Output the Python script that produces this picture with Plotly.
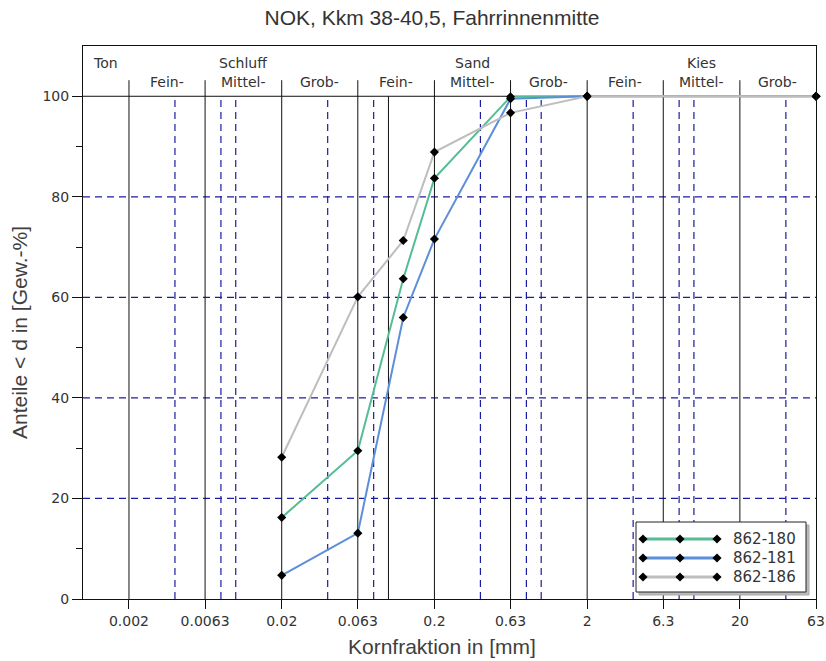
import math
import plotly.graph_objects as go

# ---------------- data ----------------
sizes_mm = [0.02, 0.063, 0.125, 0.2, 0.63, 2, 63]
s180 = [16.2, 29.5, 63.7, 83.7, 99.9, 100, 100]
s181 = [4.7, 13.1, 56.0, 71.6, 99.5, 100, 100]
s186 = [28.2, 60.1, 71.3, 88.9, 96.7, 100, 100]
series_names = ["862-180", "862-181", "862-186"]
series_colors = ["#55BC93", "#5C8FD8", "#BEBEBE"]

tick_vals = [0.002, 0.0063, 0.02, 0.063, 0.2, 0.63, 2, 6.3, 20, 63]
tick_text = ["0.002", "0.0063", "0.02", "0.063", "0.2", "0.63", "2", "6.3", "20", "63"]
solid_lines = [0.002, 0.0063, 0.02, 0.063, 0.1, 0.2, 0.63, 2, 6.3, 20]
dashed_lines = [0.004, 0.008, 0.01, 0.04, 0.08, 0.4, 0.8, 1, 4, 8, 10, 40]
class_bounds = [0.002, 0.0063, 0.02, 0.063, 0.2, 0.63, 2, 6.3, 20, 63]
class_sub = ["Fein-", "Mittel-", "Grob-", "Fein-", "Mittel-", "Grob-", "Fein-", "Mittel-", "Grob-"]
group_names = ["Schluff", "Sand", "Kies"]
y_grid = [20, 40, 60, 80]
x_min, x_max = 0.001, 63
y_min, y_max = 0, 110

# ---------------- layout geometry (pixels) ----------------
W, H = 826, 661
L, R, T, B = 83, 10, 46, 62
PW, PH = W - L - R, H - T - B

def px2paper_x(px):
    return (px - L) / PW

def px2paper_y(py):
    return (H - B - py) / PH

fig = go.Figure()

for name, col, ys in zip(series_names, series_colors, [s180, s181, s186]):
    fig.add_trace(go.Scatter(
        x=sizes_mm, y=ys, mode="lines+markers", name=name,
        line=dict(color=col, width=2),
        marker=dict(symbol="diamond", size=7, color="black"),
        showlegend=False, cliponaxis=False,
    ))

GRID_BLUE = "#1C1CA0"
shapes = []
# dashed blue grid
for v in dashed_lines:
    shapes.append(dict(type="line", xref="x", yref="y", x0=v, x1=v, y0=0, y1=100,
                       line=dict(color=GRID_BLUE, width=1.2, dash="7px,5px"), layer="below"))
for v in y_grid:
    shapes.append(dict(type="line", xref="x", yref="y", x0=x_min, x1=x_max, y0=v, y1=v,
                       line=dict(color=GRID_BLUE, width=1.2, dash="7px,5px"), layer="below"))
# solid class boundaries
for v in solid_lines:
    shapes.append(dict(type="line", xref="x", yref="y", x0=v, x1=v, y0=0, y1=100,
                       line=dict(color="#111111", width=1), layer="below"))
# short ticks in the class strip
for v in class_bounds[:-1]:
    shapes.append(dict(type="line", xref="x", yref="y", x0=v, x1=v, y0=100, y1=103.2,
                       line=dict(color="#111111", width=1), layer="below"))
shapes.append(dict(type="line", xref="x", yref="y", x0=x_min, x1=x_max, y0=100, y1=100,
                   line=dict(color="#111111", width=1), layer="below"))

# ---- custom legend, drawn on a pixel-unit overlay axis (above the grid) ----
lx0, lx1, ly0, ly1 = 636, 806, 522, 592
# shadow
fig.add_trace(go.Scatter(
    x=[lx0 + 3, lx1 + 3, lx1 + 3, lx0 + 3, lx0 + 3],
    y=[ly0 + 3, ly0 + 3, ly1 + 3, ly1 + 3, ly0 + 3],
    xaxis="x2", yaxis="y2", mode="lines", fill="toself", fillcolor="#BBBBBB",
    line=dict(color="#AAAAAA", width=1), showlegend=False, hoverinfo="skip"))
# box
fig.add_trace(go.Scatter(
    x=[lx0, lx1, lx1, lx0, lx0], y=[ly0, ly0, ly1, ly1, ly0],
    xaxis="x2", yaxis="y2", mode="lines", fill="toself", fillcolor="white",
    line=dict(color="#222222", width=1), showlegend=False, hoverinfo="skip"))

leg_rows = [539, 558, 577]
for name, col, ry in zip(series_names, series_colors, leg_rows):
    fig.add_trace(go.Scatter(
        x=[643, 680, 717], y=[ry, ry, ry], xaxis="x2", yaxis="y2",
        mode="lines+markers", line=dict(color=col, width=3),
        marker=dict(symbol="diamond", size=7, color="black"),
        showlegend=False, hoverinfo="skip", cliponaxis=False,
    ))

annotations = []
tfont = dict(family="DejaVu Sans", size=14, color="#333333")
for name, ry in zip(series_names, leg_rows):
    annotations.append(dict(xref="paper", yref="paper", x=px2paper_x(731), y=px2paper_y(ry),
                            text=name, showarrow=False, xanchor="left", yanchor="middle",
                            font=dict(family="DejaVu Sans", size=15, color="#333333")))

# class labels
for i, lab in enumerate(class_sub):
    gm = (math.log10(class_bounds[i]) + math.log10(class_bounds[i + 1])) / 2
    annotations.append(dict(xref="x", yref="y", x=gm, y=102.8, text=lab, showarrow=False,
                            xanchor="center", yanchor="middle", font=tfont))
for j, g in enumerate(group_names):
    i = 3 * j + 1
    gm = (math.log10(class_bounds[i]) + math.log10(class_bounds[i + 1])) / 2
    annotations.append(dict(xref="x", yref="y", x=gm, y=106.6, text=g, showarrow=False,
                            xanchor="center", yanchor="middle", font=tfont))
annotations.append(dict(xref="paper", yref="y", x=px2paper_x(91), y=106.6, text="Ton",
                        showarrow=False, xanchor="left", yanchor="middle", font=tfont))

# axis titles
annotations.append(dict(xref="paper", yref="paper", x=px2paper_x(442), y=px2paper_y(646),
                        text="Kornfraktion in [mm]", showarrow=False, xanchor="center",
                        yanchor="middle",
                        font=dict(family="Liberation Sans", size=21, color="#404040")))
annotations.append(dict(xref="paper", yref="paper", x=px2paper_x(19), y=px2paper_y(333),
                        text="Anteile &lt; d in [Gew.-%]", showarrow=False, xanchor="center",
                        yanchor="middle", textangle=-90,
                        font=dict(family="Liberation Sans", size=21, color="#404040")))

fig.update_layout(
    width=W, height=H,
    margin=dict(l=L, r=R, t=T, b=B, autoexpand=False),
    paper_bgcolor="white", plot_bgcolor="rgba(0,0,0,0)",
    title=dict(text="NOK, Kkm 38-40,5, Fahrrinnenmitte", x=432 / W, y=1 - 18 / H,
               xanchor="center", yanchor="middle", xref="container", yref="container",
               font=dict(family="Liberation Sans", size=21, color="#333333")),
    xaxis=dict(type="log", range=[math.log10(x_min), math.log10(x_max)],
               tickvals=tick_vals, ticktext=tick_text, ticks="outside", ticklen=9,
               tickcolor="#111111", showgrid=False, zeroline=False, automargin=False,
               showline=True, linecolor="#111111", linewidth=1, mirror=True,
               tickfont=dict(family="DejaVu Sans", size=14, color="#333333")),
    yaxis=dict(range=[y_min, y_max], tickvals=[0, 20, 40, 60, 80, 100],
               ticks="outside", ticklen=10, tickcolor="#111111", showgrid=False,
               zeroline=False, showline=True, linecolor="#111111", linewidth=1, mirror=True,
               automargin=False,
               minor=dict(tickvals=[10, 30, 50, 70, 90], ticks="outside", ticklen=6,
                          tickcolor="#111111", showgrid=False),
               tickfont=dict(family="DejaVu Sans", size=14, color="#333333")),
    xaxis2=dict(overlaying="x", range=[L, W - R], visible=False, showgrid=False,
                zeroline=False, fixedrange=True, automargin=False),
    yaxis2=dict(overlaying="y", range=[H - B, T], visible=False, showgrid=False,
                zeroline=False, fixedrange=True, automargin=False),
    shapes=shapes, annotations=annotations, showlegend=False,
)

fig.write_html("out.html")
